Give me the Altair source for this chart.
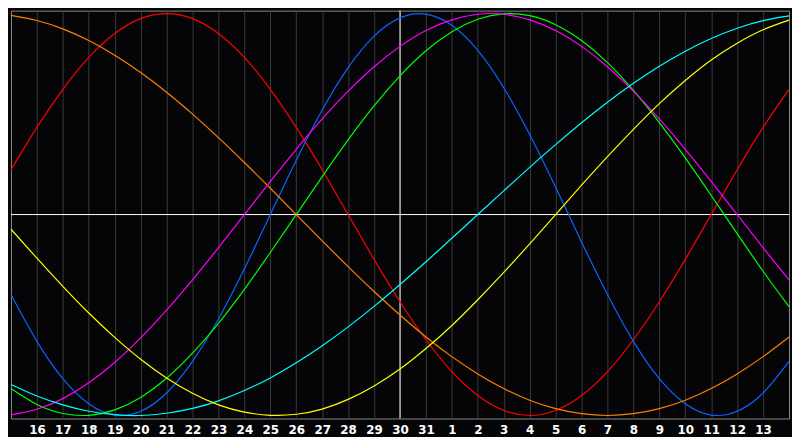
import altair as alt
import pandas as pd

# day index 0..30 -> calendar day label
day_labels = ["15", "16", "17", "18", "19", "20", "21", "22", "23", "24", "25", "26",
              "27", "28", "29", "30", "31", "1", "2", "3", "4", "5", "6", "7", "8",
              "9", "10", "11", "12", "13", "14"]
day_index = list(range(31))
today_index = 15
tick_values = list(range(1, 30))

# values (percent), one per day
physical = [-39.8, -63.1, -81.7, -94.2, -99.8, -97.9, -88.8, -73.1, -52.0, -27.0, 0.0,
            27.0, 52.0, 73.1, 88.8, 97.9, 99.8, 94.2, 81.7, 63.1, 39.8, 13.6, -13.6,
            -39.8, -63.1, -81.7, -94.2, -99.8, -97.9, -88.8, -73.1]
emotional = [22.3, 43.4, 62.3, 78.2, 90.1, 97.5, 100.0, 97.5, 90.1, 78.2, 62.3, 43.4,
             22.3, 0.0, -22.3, -43.4, -62.3, -78.2, -90.1, -97.5, -100.0, -97.5, -90.1,
             -78.2, -62.3, -43.4, -22.3, 0.0, 22.3, 43.4, 62.3]
intellectual = [-86.6, -94.5, -99.0, -99.9, -97.2, -91.0, -81.5, -69.0, -54.1, -37.2,
                -18.9, 0.0, 18.9, 37.2, 54.1, 69.0, 81.5, 91.0, 97.2, 99.9, 99.0, 94.5,
                86.6, 75.6, 61.8, 45.8, 28.2, 9.5, -9.5, -28.2, -45.8]
intuitive = [-99.7, -96.9, -91.6, -83.7, -73.6, -61.4, -47.6, -32.5, -16.5, 0.0, 16.5,
             32.5, 47.6, 61.4, 73.6, 83.7, 91.6, 96.9, 99.7, 99.7, 96.9, 91.6, 83.7,
             73.6, 61.4, 47.6, 32.5, 16.5, 0.0, -16.5, -32.5]
aesthetic = [-7.3, -21.7, -35.7, -49.0, -61.1, -72.0, -81.3, -88.9, -94.7, -98.3, -99.9,
             -99.4, -96.8, -92.0, -85.3, -76.9, -66.7, -55.2, -42.4, -28.8, -14.6, 0.0,
             14.6, 28.8, 42.4, 55.2, 66.7, 76.9, 85.3, 92.0, 96.8]
awareness = [99.1, 96.6, 92.4, 86.6, 79.3, 70.7, 60.9, 50.0, 38.3, 25.9, 13.1, 0.0,
             -13.1, -25.9, -38.3, -50.0, -60.9, -70.7, -79.3, -86.6, -92.4, -96.6,
             -99.1, -100.0, -99.1, -96.6, -92.4, -86.6, -79.3, -70.7, -60.9]
spiritual = [-84.6, -90.3, -94.7, -97.9, -99.6, -100.0, -98.9, -96.5, -92.7, -87.6,
             -81.3, -73.8, -65.3, -55.9, -45.7, -34.8, -23.5, -11.8, 0.0, 11.8, 23.5,
             34.8, 45.7, 55.9, 65.3, 73.8, 81.3, 87.6, 92.7, 96.5, 98.9]

series_names = ["Emotional", "Physical", "Intellectual", "Awareness", "Intuitive",
                "Spiritual", "Aesthetic"]
series_values = [emotional, physical, intellectual, awareness, intuitive, spiritual,
                 aesthetic]
series_colors = ["#ff0000", "#0a64ff", "#00ff00", "#ff8000", "#ff00ff", "#00ffff",
                 "#ffff00"]

rows = []
for name, vals in zip(series_names, series_values):
    for d, v in zip(day_index, vals):
        rows.append({"series": name, "day": d, "value": v})
df = pd.DataFrame(rows)

xscale = alt.Scale(domain=[0, 30], nice=False, zero=False)
yscale = alt.Scale(domain=[-101.5, 101.5], nice=False, zero=False)

# label expression built from the day_labels list
label_expr = "''"
for i in reversed(day_index):
    label_expr = "datum.value == %d ? '%s' : (%s)" % (i, day_labels[i], label_expr)

x_axis = alt.Axis(values=tick_values, labelExpr=label_expr, ticks=False, domain=False,
                  grid=True, gridColor="#3a3a3a", gridWidth=1, labelColor="#ffffff",
                  labelFont="DejaVu Sans", labelFontWeight="bold", labelFontSize=12,
                  labelPadding=6, labelAngle=0, title=None)

lines = alt.Chart(df).mark_line(strokeWidth=1.2, interpolate="natural").encode(
    x=alt.X("day:Q", scale=xscale, axis=x_axis),
    y=alt.Y("value:Q", scale=yscale, axis=None),
    color=alt.Color("series:N", scale=alt.Scale(domain=series_names, range=series_colors),
                    legend=None),
    detail="series:N",
)

today_df = pd.DataFrame({"day": [today_index]})
today_rule = alt.Chart(today_df).mark_rule(color="#ffffff", strokeWidth=1).encode(
    x=alt.X("day:Q", scale=xscale, axis=x_axis)
)
zero_df = pd.DataFrame({"value": [0]})
zero_rule = alt.Chart(zero_df).mark_rule(color="#ffffff", strokeWidth=1).encode(
    y=alt.Y("value:Q", scale=yscale, axis=None)
)

chart = alt.layer(today_rule, zero_rule, lines).properties(
    width=784, height=411,
    background="#050508",
    padding=0,
).configure_view(stroke="#8a8a8a", strokeWidth=1, fill="#050508")

chart.save("out.html", embed_options={"renderer": "svg", "actions": False})
